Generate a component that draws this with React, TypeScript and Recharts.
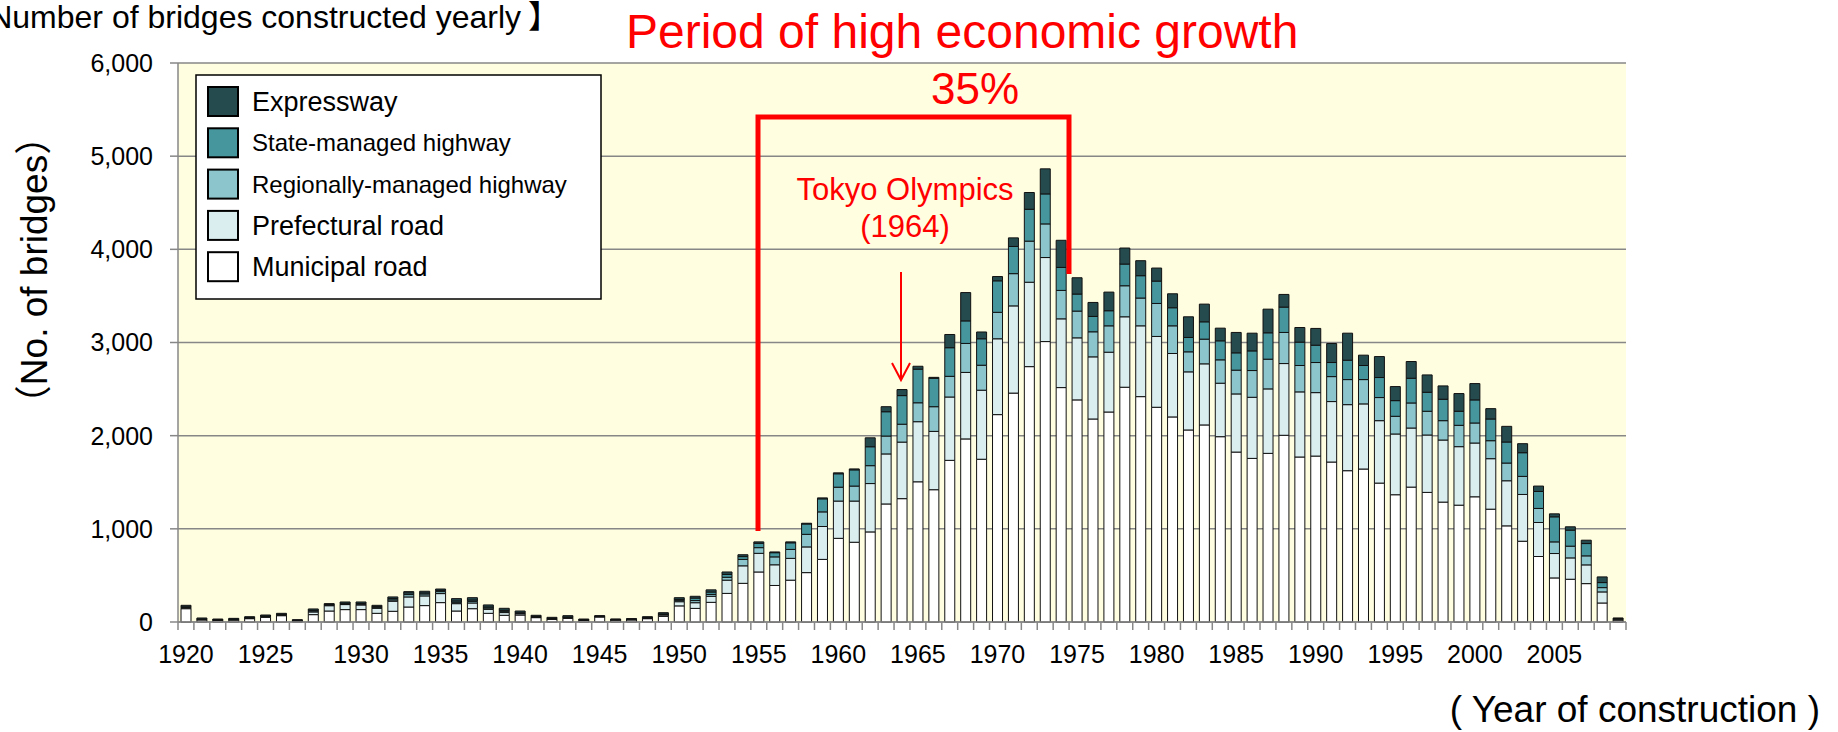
import { BarChart, Bar, XAxis, YAxis, CartesianGrid } from 'recharts';

// year of each bar (first bar sits under the "1920" label)
const years = [
  1919,
  1920, 1921, 1922, 1923, 1924, 1925, 1926, 1927, 1928, 1929,
  1930, 1931, 1932, 1933, 1934, 1935, 1936, 1937, 1938, 1939,
  1940, 1941, 1942, 1943, 1944, 1945, 1946, 1947, 1948, 1949,
  1950, 1951, 1952, 1953, 1954, 1955, 1956, 1957, 1958, 1959,
  1960, 1961, 1962, 1963, 1964, 1965, 1966, 1967, 1968, 1969,
  1970, 1971, 1972, 1973, 1974, 1975, 1976, 1977, 1978, 1979,
  1980, 1981, 1982, 1983, 1984, 1985, 1986, 1987, 1988, 1989,
  1990, 1991, 1992, 1993, 1994, 1995, 1996, 1997, 1998, 1999,
  2000, 2001, 2002, 2003, 2004, 2005, 2006, 2007, 2008, 2009,
];

// which bar carries which axis label
const tickLabels: Record<number, string> = {
  1919: '1920', 1924: '1925', 1930: '1930', 1935: '1935', 1940: '1940', 1945: '1945',
  1950: '1950', 1955: '1955', 1960: '1960', 1965: '1965', 1970: '1970', 1975: '1975',
  1980: '1980', 1985: '1985', 1990: '1990', 1995: '1995', 2000: '2000', 2005: '2005',
};

const yTicks = [0, 1000, 2000, 3000, 4000, 5000, 6000];

const municipal = [
  143,
  22, 18, 20, 36, 50, 68, 10, 79, 118, 133,
  133, 93, 115, 161, 176, 208, 118, 143, 93, 72,
  75, 47, 29, 39, 18, 54, 20, 22, 36, 61,
  173, 146, 211, 307, 415, 537, 392, 449, 530, 672,
  898, 856, 967, 1267, 1324, 1505, 1420, 1735, 1965, 1747,
  2226, 2457, 2741, 3010, 2516, 2384, 2179, 2254, 2520, 2419,
  2305, 2201, 2061, 2115, 1989, 1824, 1756, 1810, 2004, 1771,
  1781, 1717, 1624, 1642, 1491, 1366, 1448, 1391, 1287, 1254,
  1344, 1211, 1032, 867, 703, 473, 459, 412, 204, 20,
];
const prefectural = [
  10,
  5, 4, 6, 6, 8, 8, 4, 29, 57, 54,
  50, 54, 108, 108, 104, 97, 79, 61, 43, 29,
  14, 7, 5, 8, 4, 4, 4, 5, 7, 14,
  45, 61, 65, 142, 188, 200, 222, 234, 276, 353,
  400, 442, 519, 537, 607, 645, 626, 680, 714, 741,
  814, 936, 906, 902, 738, 666, 667, 642, 756, 760,
  760, 681, 624, 656, 574, 624, 656, 692, 770, 699,
  681, 649, 709, 699, 670, 652, 634, 616, 666, 628,
  577, 542, 484, 502, 365, 262, 229, 201, 119, 10,
];
const regional = [
  5,
  3, 2, 2, 3, 4, 3, 2, 11, 7, 7,
  8, 11, 14, 25, 21, 21, 15, 18, 14, 14,
  5, 3, 3, 4, 2, 2, 2, 2, 3, 6,
  15, 23, 20, 31, 69, 61, 85, 96, 135, 157,
  149, 161, 192, 192, 192, 203, 265, 222, 311, 268,
  284, 346, 441, 361, 305, 287, 269, 283, 333, 298,
  354, 297, 215, 265, 251, 255, 287, 319, 334, 283,
  323, 268, 269, 261, 248, 190, 269, 255, 208, 229,
  215, 193, 190, 194, 151, 125, 126, 97, 46, 5,
];
const state = [
  5,
  3, 2, 2, 2, 3, 3, 2, 7, 7, 7,
  8, 7, 14, 18, 11, 14, 14, 14, 11, 11,
  5, 3, 2, 3, 2, 2, 2, 2, 3, 5,
  10, 27, 26, 31, 30, 47, 45, 71, 111, 140,
  144, 174, 203, 261, 307, 361, 305, 307, 242, 284,
  338, 292, 342, 322, 247, 183, 165, 162, 233, 240,
  240, 194, 154, 186, 204, 186, 211, 283, 272, 251,
  186, 151, 208, 151, 215, 168, 265, 204, 230, 151,
  248, 233, 226, 254, 182, 269, 172, 132, 54, 3,
];
const expressway = [
  16,
  10, 6, 9, 10, 10, 11, 7, 14, 8, 14,
  16, 14, 18, 14, 18, 14, 25, 25, 22, 21,
  19, 12, 11, 14, 6, 6, 4, 5, 8, 14,
  18, 19, 23, 26, 20, 15, 8, 10, 8, 10,
  10, 10, 96, 54, 65, 31, 10, 142, 304, 73,
  46, 92, 180, 269, 291, 175, 150, 200, 172, 161,
  140, 150, 222, 190, 136, 219, 190, 254, 136, 157,
  180, 204, 290, 111, 225, 151, 180, 186, 143, 190,
  175, 111, 168, 97, 58, 32, 36, 36, 61, 5,
];

// stack order bottom -> top
const series = [
  { key: 'municipal', name: 'Municipal road', color: '#FFFFFF', fontSize: 27 },
  { key: 'prefectural', name: 'Prefectural road', color: '#DAEEF0', fontSize: 27 },
  { key: 'regional', name: 'Regionally-managed highway', color: '#8CC6CC', fontSize: 24 },
  { key: 'state', name: 'State-managed highway', color: '#46969E', fontSize: 24 },
  { key: 'expressway', name: 'Expressway', color: '#254B4F', fontSize: 27 },
];

const data = years.map((year, i) => ({
  year,
  municipal: municipal[i],
  prefectural: prefectural[i],
  regional: regional[i],
  state: state[i],
  expressway: expressway[i],
}));

const W = 1838;
const H = 732;
const PLOT_LEFT = 178;
const PLOT_RIGHT = 1626;
const BAND = (PLOT_RIGHT - PLOT_LEFT) / years.length;
const AXIS = '#878787';
const RED = '#FF0000';
const FONT = "'Liberation Sans', Arial, 'Noto Sans CJK JP', sans-serif";

const fmt = (v: number) => String(v).replace(/\B(?=(\d{3})+(?!\d))/g, ',');

function YearTick(props: any) {
  const { x, y, payload, index } = props;
  const half = BAND / 2;
  const label = tickLabels[payload.value];
  return (
    <g>
      <line x1={x - half} x2={x - half} y1={y} y2={y + 8} stroke={AXIS} strokeWidth={1.5} />
      {index === years.length - 1 && (
        <line x1={x + half} x2={x + half} y1={y} y2={y + 8} stroke={AXIS} strokeWidth={1.5} />
      )}
      {label && (
        <text x={x} y={y + 41} textAnchor="middle" fontSize={25} fill="#000">
          {label}
        </text>
      )}
    </g>
  );
}

function LegendBox() {
  const items = [...series].reverse();
  return (
    <g>
      <rect x={196} y={75} width={405} height={224} fill="#fff" stroke="#000" strokeWidth={1.5} />
      {items.map((s, i) => {
        const cy = 101.5 + i * 41.3;
        return (
          <g key={s.key}>
            <rect x={208} y={cy - 14.5} width={30} height={29} fill={s.color} stroke="#000" strokeWidth={2} />
            <text x={252} y={cy + s.fontSize * 0.36} fontSize={s.fontSize} fill="#000">
              {s.name}
            </text>
          </g>
        );
      })}
    </g>
  );
}

export default function App() {
  return (
    <div style={{ position: 'absolute', left: 0, top: 0, width: W, height: H, background: '#fff', fontFamily: FONT, overflow: 'hidden' }}>
      <BarChart
        width={W}
        height={H}
        data={data}
        margin={{ top: 63, right: W - PLOT_RIGHT, bottom: 0, left: 0 }}
        barSize={10}
      >
        <CartesianGrid vertical={false} stroke={AXIS} strokeWidth={1.5} fill="#FFFEE0" />
        <XAxis
          dataKey="year"
          interval={0}
          height={110}
          tickLine={false}
          tickSize={0}
          tickMargin={0}
          axisLine={{ stroke: AXIS, strokeWidth: 1.5 }}
          tick={<YearTick />}
        />
        <YAxis
          width={PLOT_LEFT}
          domain={[0, 6000]}
          ticks={yTicks}
          tickFormatter={fmt}
          tickSize={8}
          tickMargin={17}
          tickLine={{ stroke: AXIS, strokeWidth: 1.5 }}
          axisLine={{ stroke: AXIS, strokeWidth: 1.5 }}
          tick={{ fontSize: 25, fill: '#000' }}
        />
        {series.map((s) => (
          <Bar
            key={s.key}
            dataKey={s.key}
            name={s.name}
            stackId="bridges"
            barSize={10}
            fill={s.color}
            stroke="#111"
            strokeWidth={1}
            isAnimationActive={false}
          />
        ))}
      </BarChart>

      <svg width={W} height={H} style={{ position: 'absolute', left: 0, top: 0, pointerEvents: 'none' }}>
        <text x={521} y={28} textAnchor="end" fontSize={32} fill="#000">
          【Number of bridges constructed yearly
        </text>
        <text x={528} y={28} fontSize={32} fill="#000">】</text>

        <text x={626} y={48} fontSize={48} fill={RED}>Period of high economic growth</text>
        <text x={975} y={104} textAnchor="middle" fontSize={44} fill={RED}>35%</text>
        <path d="M758,531 L758,117 L1069,117 L1069,274" fill="none" stroke={RED} strokeWidth={5} />

        <text x={905} y={200} textAnchor="middle" fontSize={31} fill={RED}>Tokyo Olympics</text>
        <text x={905} y={237} textAnchor="middle" fontSize={31} fill={RED}>(1964)</text>
        <line x1={901} y1={272} x2={901} y2={379} stroke={RED} strokeWidth={2} />
        <polyline points="892,363 901,380 910,363" fill="none" stroke={RED} strokeWidth={2} />

        <LegendBox />

        <text transform="translate(47,270) rotate(-90)" textAnchor="middle" fontSize={37} fill="#000">
          （No. of bridges）
        </text>
        <text x={1820} y={722} textAnchor="end" fontSize={37} fill="#000">
          ( Year of construction )
        </text>
      </svg>
    </div>
  );
}
